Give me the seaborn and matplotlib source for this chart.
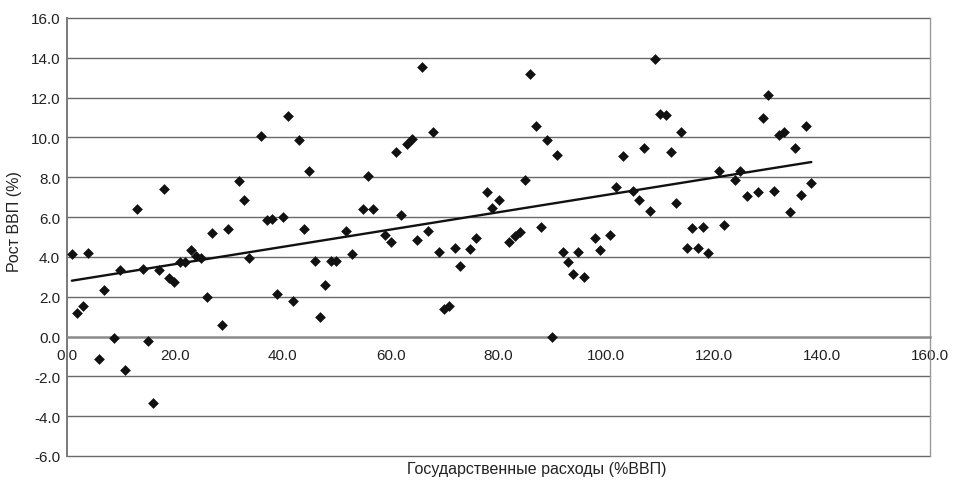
import numpy as np
import pandas as pd
import matplotlib
matplotlib.use('Agg')
import matplotlib.pyplot as plt
import seaborn as sns

# Государственные расходы (%ВВП) vs Рост ВВП (%)
spending = [
    0.9, 1.9, 2.9, 3.9, 5.9, 6.8, 8.8, 9.8, 10.8, 13.0,
    14.0, 15.0, 16.0, 17.0, 18.0, 18.9, 19.9, 20.9, 21.9, 22.9,
    23.9, 24.9, 25.9, 26.9, 28.8, 29.8, 31.8, 32.8, 33.8, 36.0,
    37.0, 38.0, 38.9, 40.0, 41.0, 41.9, 43.0, 43.9, 44.9, 45.9,
    46.9, 47.9, 48.9, 49.9, 51.8, 52.8, 54.8, 55.8, 56.8, 59.0,
    60.0, 61.0, 62.0, 63.0, 63.9, 64.9, 65.9, 66.9, 67.9, 68.9,
    69.9, 70.9, 71.9, 72.8, 74.8, 75.8, 77.8, 78.8, 80.0, 82.0,
    83.0, 83.9, 84.9, 85.9, 86.9, 87.9, 88.9, 89.9, 90.9, 91.9,
    92.8, 93.8, 94.8, 95.8, 97.8, 98.8, 100.7, 101.7, 103.1, 105.0,
    106.0, 107.0, 108.0, 109.0, 110.0, 111.0, 112.0, 112.9, 113.9, 114.9,
    115.9, 116.9, 117.9, 118.9, 120.9, 121.9, 123.8, 124.8, 126.1, 128.1,
    129.0, 130.0, 131.0, 132.0, 133.0, 134.0, 135.0, 136.0, 137.0, 138.0,
]
growth = [
    4.15, 1.2, 1.55, 4.2, -1.15, 2.35, -0.05, 3.35, -1.7, 6.4,
    3.4, -0.2, -3.35, 3.35, 7.4, 2.95, 2.75, 3.75, 3.75, 4.35,
    4.05, 3.95, 2.0, 5.2, 0.6, 5.4, 7.8, 6.85, 3.95, 10.05,
    5.85, 5.9, 2.15, 6.0, 11.1, 1.8, 9.85, 5.4, 8.3, 3.8,
    1.0, 2.6, 3.8, 3.8, 5.3, 4.15, 6.4, 8.05, 6.4, 5.1,
    4.75, 9.25, 6.1, 9.65, 9.9, 4.85, 13.55, 5.3, 10.25, 4.25,
    1.4, 1.55, 4.45, 3.55, 4.4, 4.95, 7.25, 6.45, 6.85, 4.75,
    5.05, 5.25, 7.85, 13.2, 10.6, 5.5, 9.85, 0.0, 9.1, 4.25,
    3.75, 3.15, 4.25, 3.0, 4.95, 4.35, 5.1, 7.5, 9.05, 7.3,
    6.85, 9.45, 6.3, 13.95, 11.2, 11.15, 9.25, 6.7, 10.25, 4.45,
    5.45, 4.45, 5.5, 4.2, 8.3, 5.6, 7.85, 8.3, 7.05, 7.25,
    11.0, 12.15, 7.3, 10.1, 10.25, 6.25, 9.45, 7.1, 10.6, 7.7,
]
x_ticks = [0, 20, 40, 60, 80, 100, 120, 140, 160]
y_ticks = [-6, -4, -2, 0, 2, 4, 6, 8, 10, 12, 14, 16]

sns.set_style('white')
plt.rcParams['font.family'] = ['Liberation Sans', 'DejaVu Sans']

df = pd.DataFrame({'spending': spending, 'growth': growth})

fig = plt.figure(figsize=(9.56, 4.85), dpi=100)
ax = fig.add_axes([67 / 956, 1 - 457 / 485, 863 / 956, 438 / 485])

for v in y_ticks:
    if v == 0:
        continue
    ax.axhline(v, color='#6a6a6a', lw=1.0, zorder=0, clip_on=False)

sns.regplot(data=df, x='spending', y='growth', ax=ax, ci=None, marker='D',
            scatter_kws={'s': 30, 'color': '#111111', 'alpha': 1,
                         'linewidths': 0, 'zorder': 3},
            line_kws={'color': '#111111', 'lw': 1.7, 'zorder': 4})

ax.set_xlim(0, 160)
ax.set_ylim(-6, 16)
ax.set_xticks(x_ticks)
ax.set_xticklabels([f'{v:.1f}' for v in x_ticks])
ax.set_yticks(y_ticks)
ax.set_yticklabels([f'{v:.1f}' for v in y_ticks])

ax.spines['bottom'].set_position(('data', 0))
ax.spines['bottom'].set_color('#8a8a8a')
ax.spines['bottom'].set_linewidth(1.8)
ax.spines['left'].set_color('#7a7a7a')
ax.spines['left'].set_linewidth(1.4)
ax.spines['right'].set_color('#9a9a9a')
ax.spines['right'].set_linewidth(1.0)
ax.spines['top'].set_visible(False)

ax.tick_params(axis='both', which='major', direction='inout', length=7, width=1,
               color='#555555', labelsize=11, labelcolor='#222222')
ax.tick_params(axis='x', pad=5)
ax.tick_params(axis='y', pad=1.5)

ax.set_xlabel('')
ax.set_ylabel('')
fig.text(537 / 956, 1 - 470 / 485, 'Государственные расходы (%ВВП)',
         ha='center', va='center', fontsize=11.5, color='#222222')
fig.text(15 / 956, 1 - 222 / 485, 'Рост ВВП (%)', rotation=90,
         ha='center', va='center', fontsize=11.5, color='#222222')

fig.savefig('out.png', dpi=100)
